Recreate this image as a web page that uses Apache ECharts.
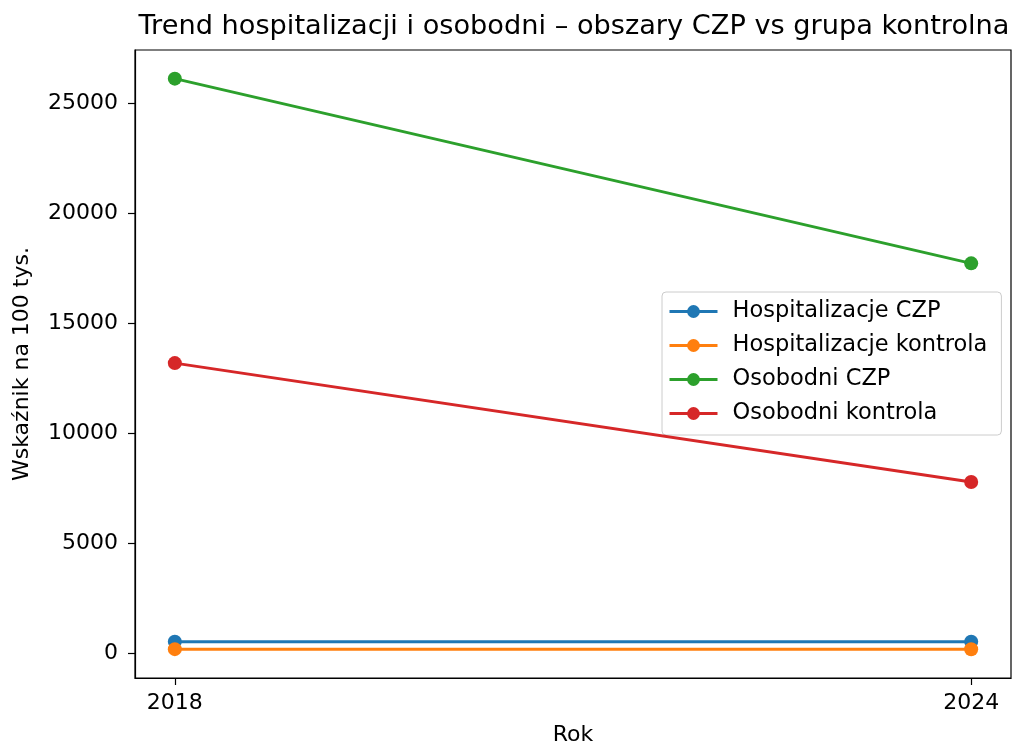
<!DOCTYPE html>
<html>
<head>
<meta charset="utf-8">
<script src="https://cdn.jsdelivr.net/npm/echarts@6/dist/echarts.min.js"></script>
<style>
html,body{margin:0;padding:0;background:#fff;}
#chart{width:1012px;height:745px;}
</style>
</head>
<body>
<div id="chart"></div>
<script>
const years = [2018, 2024];
const hospCZP = [530, 525];
const hospKontrola = [190, 185];
const osobCZP = [26100, 17710];
const osobKontrola = [13180, 7780];
const seriesNames = ['Hospitalizacje CZP', 'Hospitalizacje kontrola', 'Osobodni CZP', 'Osobodni kontrola'];
const seriesValues = [hospCZP, hospKontrola, osobCZP, osobKontrola];
const colors = ['#1f77b4', '#ff7f0e', '#2ca02c', '#d62728'];
const yTicks = [0, 5000, 10000, 15000, 20000, 25000];
const xTicks = [2018, 2024];
const titleText = 'Trend hospitalizacji i osobodni – obszary CZP vs grupa kontrolna';
const xName = 'Rok';
const yName = 'Wskaźnik na 100 tys.';

const FONT = 'DejaVu Sans';
const chart = echarts.init(document.getElementById('chart'), null, {renderer: 'canvas'});

const series = seriesNames.map((name, i) => ({
  name: name,
  type: 'line',
  data: years.map((y, j) => [y, seriesValues[i][j]]),
  symbol: 'circle',
  symbolSize: 14,
  showSymbol: true,
  lineStyle: {width: 3, color: colors[i]},
  itemStyle: {color: colors[i]},
  animation: false,
  z: 2 + i
}));

chart.setOption({
  animation: false,
  backgroundColor: '#fff',
  title: {
    text: titleText,
    left: 569,
    textAlign: 'center',
    top: 8,
    textStyle: {fontFamily: FONT, fontSize: 27.2, fontWeight: 'normal', color: '#000'}
  },
  legend: {
    orient: 'vertical',
    left: 662,
    top: 292,
    data: seriesNames,
    itemWidth: 48,
    itemHeight: 16,
    itemGap: 11,
    padding: [8, 14, 10, 6],
    backgroundColor: 'rgba(255,255,255,0.8)',
    borderColor: '#cccccc',
    borderWidth: 1,
    borderRadius: 4,
    lineStyle: {width: 3},
    textStyle: {fontFamily: FONT, fontSize: 22.5, color: '#000', padding: [0, 0, 0, 10]}
  },
  grid: {
    left: 135, right: 1, top: 50, bottom: 67,
    show: true, borderColor: '#000', borderWidth: 1.2, backgroundColor: '#fff',
    containLabel: false,
    outerBoundsMode: 'none'
  },
  xAxis: {
    type: 'value',
    min: 2017.7,
    max: 2024.3,
    name: xName,
    nameLocation: 'middle',
    nameGap: 46,
    nameTextStyle: {fontFamily: FONT, fontSize: 22, color: '#000'},
    axisLine: {show: true, onZero: false, lineStyle: {color: '#000', width: 1.2}},
    axisTick: {show: true, length: 7, lineStyle: {color: '#000', width: 1.2}, customValues: xTicks},
    axisLabel: {fontFamily: FONT, fontSize: 22, color: '#000', margin: 14, customValues: xTicks, formatter: v => String(v)},
    splitLine: {show: false}
  },
  yAxis: {
    type: 'value',
    min: -1120,
    max: 27400,
    name: yName,
    nameLocation: 'middle',
    nameGap: 102,
    nameRotate: 90,
    nameTextStyle: {fontFamily: FONT, fontSize: 22, color: '#000'},
    axisLine: {show: true, onZero: false, lineStyle: {color: '#000', width: 1.2}},
    axisTick: {show: true, length: 7, lineStyle: {color: '#000', width: 1.2}, customValues: yTicks},
    axisLabel: {fontFamily: FONT, fontSize: 22, color: '#000', margin: 17, customValues: yTicks, formatter: v => String(v)},
    splitLine: {show: false}
  },
  series: series
});
</script>
</body>
</html>
